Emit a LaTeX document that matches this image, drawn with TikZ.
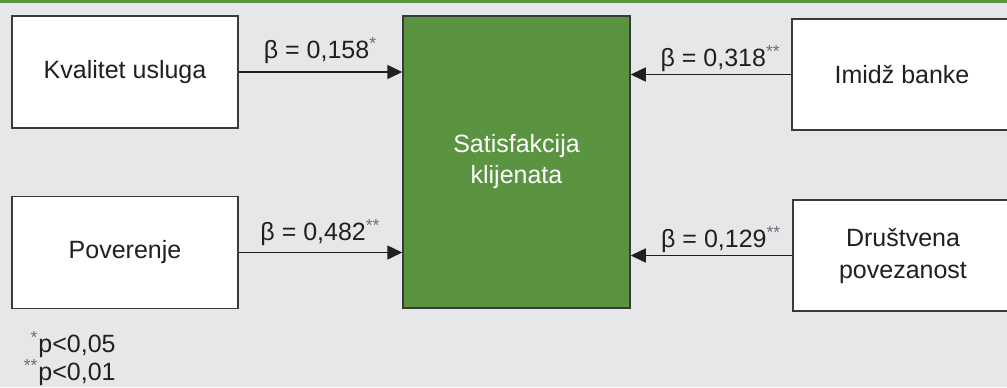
\documentclass[tikz,border=0pt]{standalone}
\usepackage{fontspec}
\setmainfont{Liberation Sans}
\usepackage{xcolor}
\usetikzlibrary{arrows.meta,positioning}

\definecolor{bggray}{HTML}{E6E7E8}
\definecolor{boxgreen}{HTML}{5A9441}
\definecolor{inkgray}{HTML}{231F20}
\definecolor{edgegray}{HTML}{3A3A3A}
\definecolor{stargray}{HTML}{6D6E71}
\newcommand{\sig}[1]{\textcolor{stargray}{\textsuperscript{#1}}}

\begin{document}
\begin{tikzpicture}[x=0.5pt, y=-0.5pt,
  factor/.style={draw=edgegray, line width=0.75pt, fill=white, minimum width=113pt, minimum height=56pt, align=center, text=inkgray, font=\fontsize{12.5}{16}\selectfont},
  outcome/.style={draw=edgegray, line width=0.75pt, fill=boxgreen, minimum width=113.5pt, minimum height=146pt, align=center, text=white, font=\fontsize{12.5}{15.5}\selectfont},
  arr/.style={draw=inkgray, line width=0.75pt, -{Triangle[length=7.5pt, width=7pt]}},
  coef/.style={inner sep=0pt, text=inkgray, font=\fontsize{12.5}{15}\selectfont},
  note/.style={anchor=base west, inner sep=0pt, text=inkgray, font=\fontsize{12.5}{15}\selectfont},
]
\useasboundingbox (0,0) rectangle (1007,387);
\clip (0,0) rectangle (1007,387);
\fill[bggray] (0,0) rectangle (1007,387);
\fill[boxgreen] (0,0) rectangle (1007,2.5);

% predictors and outcome
\node[factor] (kvalitet) at (125,72) {Kvalitet usluga};
\node[factor] (poverenje) at (125,252.5) {Poverenje};
\node[outcome] (satisf) at (516.5,162) {Satisfakcija\\klijenata};
\node[factor, minimum width=110pt, minimum height=55.5pt] (imidz) at (902,74.5) {Imidž banke};
\node[factor, minimum width=110pt, minimum height=55.5pt] (drustvena) at (903,255.5) {Društvena\\povezanost};

% paths with coefficients
\draw[arr] (kvalitet.east) -- node[coef, above=4pt] {β = 0,158\sig{*}} (kvalitet.east -| satisf.west);
\draw[arr] (poverenje.east) -- node[coef, above=3pt] {β = 0,482\sig{**}} (poverenje.east -| satisf.west);
\draw[arr] (imidz.west) -- node[coef, pos=.44, above=1pt] {β = 0,318\sig{**}} (imidz.west -| satisf.east);
\draw[arr] (drustvena.west) -- node[coef, pos=.44, above=1pt] {β = 0,129\sig{**}} (drustvena.west -| satisf.east);

% significance notes
\node[note] (note1) at (38,352) {\llap{\sig{*}}p<0,05};
\node[note] (note2) at (38,380) {\llap{\sig{**}}p<0,01};
\end{tikzpicture}
\end{document}
